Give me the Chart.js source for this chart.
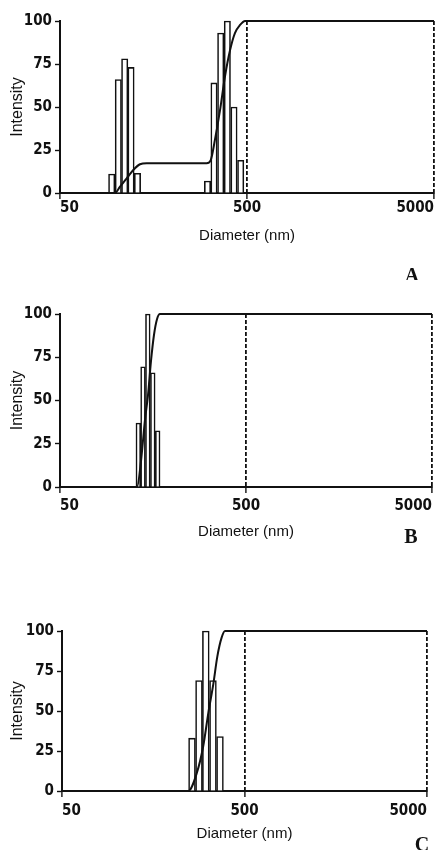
<!DOCTYPE html>
<html>
<head>
<meta charset="utf-8">
<script src="https://cdn.jsdelivr.net/npm/chart.js@4.4.1/dist/chart.umd.min.js"></script>
<style>
  html, body { margin: 0; padding: 0; background: #fff; }
  #wrap { position: relative; width: 436px; height: 850px; overflow: hidden; }
  canvas { position: absolute; left: 0; }
</style>
</head>
<body>
<div id="wrap">
  <canvas id="chartA" width="436" height="280" style="top:0"></canvas>
  <canvas id="chartB" width="436" height="280" style="top:280px"></canvas>
  <canvas id="chartC" width="436" height="290" style="top:560px"></canvas>
</div>
<script>
// tick labels shared by the three panels
const xTicks = [50, 500, 5000];
const yTicks = [0, 25, 50, 75, 100];

// panel A - two populations
const aBinDiam = [94.5, 102.5, 110.9, 119.9, 129.8, 307.4, 333, 361.7, 392.5, 426, 462.6];
const aBinInt = [11, 66, 78, 73, 11.5, 7, 64, 93, 100, 50, 19];
const aCumDiam = [50, 98.4, 104.7, 113.7, 123.3, 133.9, 145.4, 304, 319.6, 337, 358.5, 381, 405.7, 431, 459, 488, 5000];
const aCumInt = [0, 0, 3.7, 8.5, 13.4, 16.7, 17.3, 17.3, 19, 31, 48, 67.6, 83, 93, 97.7, 100, 100];

// panel B
const bBinDiam = [131.8, 139.7, 148.3, 157.7, 167.6];
const bBinInt = [37, 69.5, 100, 66, 32.5];
const bCumDiam = [50, 129.7, 136.3, 143.2, 148.6, 154.3, 160.1, 166.1, 172.4, 5000];
const bCumInt = [0, 0, 15, 39, 53, 73, 88, 97, 100, 100];

// panel C
const cBinDiam = [257.8, 281.6, 306.9, 335.9, 367];
const cBinInt = [33, 69, 100, 69, 34];
const cCumDiam = [50, 246, 273.5, 297, 317, 337.5, 354.8, 375, 391, 5000];
const cCumInt = [0, 0, 11, 28, 49, 67, 84, 96, 100, 100];

const INK = "#111";
// condensed bold for the tick numbers (font-stretch goes in the shorthand)
const tickFont = { family: '"DejaVu Sans Condensed", "DejaVu Sans", sans-serif', size: 15, weight: "bold condensed" };
const titleFamily = '"Liberation Sans", Arial, sans-serif';

Chart.defaults.color = INK;

// draws the panel letter (A / B / C) in the corner
const letterPlugin = {
  id: "panelLetter",
  afterDraw(chart, args, opts) {
    const ctx = chart.ctx;
    ctx.save();
    ctx.font = 'bold 20px "Liberation Serif", "DejaVu Serif", serif';
    ctx.fillStyle = INK;
    ctx.textAlign = "center";
    ctx.textBaseline = "alphabetic";
    ctx.fillText(opts.text, opts.x, opts.y);
    ctx.restore();
  }
};

function pairs(xs, ys) {
  return xs.map((x, i) => ({ x: x, y: ys[i] }));
}

function makePanel(p) {
  const W = 436;
  return new Chart(document.getElementById(p.id), {
    type: "bar",
    data: {
      datasets: [
        {
          type: "line",
          data: pairs(p.cumX, p.cumY),
          borderColor: INK,
          borderWidth: 2,
          pointRadius: 0,
          cubicInterpolationMode: "monotone",
          clip: false,
          order: 0
        },
        {
          type: "bar",
          data: pairs(p.binX, p.binY),
          backgroundColor: "#fff",
          borderColor: INK,
          borderWidth: 1.6,
          barPercentage: 1,
          categoryPercentage: 1,
          clip: false,
          order: 1
        }
      ]
    },
    options: {
      responsive: false,
      animation: false,
      devicePixelRatio: 1,
      events: [],
      layout: { padding: { left: 0, top: p.box.top, right: W - p.box.right, bottom: 0 } },
      plugins: {
        legend: { display: false },
        tooltip: { enabled: false },
        panelLetter: { text: p.letter, x: p.letterX, y: p.letterY }
      },
      scales: {
        x: {
          type: "logarithmic",
          min: 50,
          max: 5000,
          offset: false,
          afterBuildTicks: (s) => { s.ticks = xTicks.map(v => ({ value: v })); },
          afterFit: (s) => { s.height = p.h - p.box.bottom; },
          grid: {
            offset: false,
            color: (c) => (c.tick && c.tick.value === 50 ? "rgba(0,0,0,0)" : INK),
            lineWidth: 1.8,
            tickColor: INK,
            tickWidth: 1.4,
            tickLength: 6
          },
          border: { display: true, color: INK, width: 2, dash: [4, 2] },
          ticks: {
            align: "inner",
            maxRotation: 0,
            autoSkip: false,
            padding: p.tickPad,
            font: tickFont,
            color: INK,
            callback: (v) => String(v)
          },
          title: {
            display: true,
            text: "Diameter (nm)",
            color: INK,
            font: { family: titleFamily, size: 15 },
            padding: { top: 0, bottom: p.titlePad }
          }
        },
        y: {
          min: 0,
          max: 100,
          afterBuildTicks: (s) => { s.ticks = yTicks.map(v => ({ value: v })); },
          afterFit: (s) => { s.width = p.box.left; },
          grid: { drawOnChartArea: false, tickLength: 5, tickColor: INK, tickWidth: 1.4 },
          border: { display: true, color: INK, width: 2 },
          ticks: { padding: 3, font: tickFont, color: INK },
          title: {
            display: true,
            text: "Intensity",
            color: INK,
            font: { family: titleFamily, size: 16 },
            padding: { top: 8, bottom: 0 }
          }
        }
      }
    },
    plugins: [letterPlugin]
  });
}

makePanel({ id: "chartA", h: 280, letter: "A", letterX: 412, letterY: 282,
  box: { left: 60, right: 434, top: 21, bottom: 193 }, tickPad: 0, titlePad: 35,
  binX: aBinDiam, binY: aBinInt, cumX: aCumDiam, cumY: aCumInt });

makePanel({ id: "chartB", h: 280, letter: "B", letterX: 411, letterY: 263,
  box: { left: 60, right: 432, top: 34, bottom: 207 }, tickPad: 4, titlePad: 19,
  binX: bBinDiam, binY: bBinInt, cumX: bCumDiam, cumY: bCumInt });

makePanel({ id: "chartC", h: 290, letter: "C", letterX: 422, letterY: 291,
  box: { left: 62, right: 427, top: 71, bottom: 231 }, tickPad: 5, titlePad: 7,
  binX: cBinDiam, binY: cBinInt, cumX: cCumDiam, cumY: cCumInt });
</script>
</body>
</html>
